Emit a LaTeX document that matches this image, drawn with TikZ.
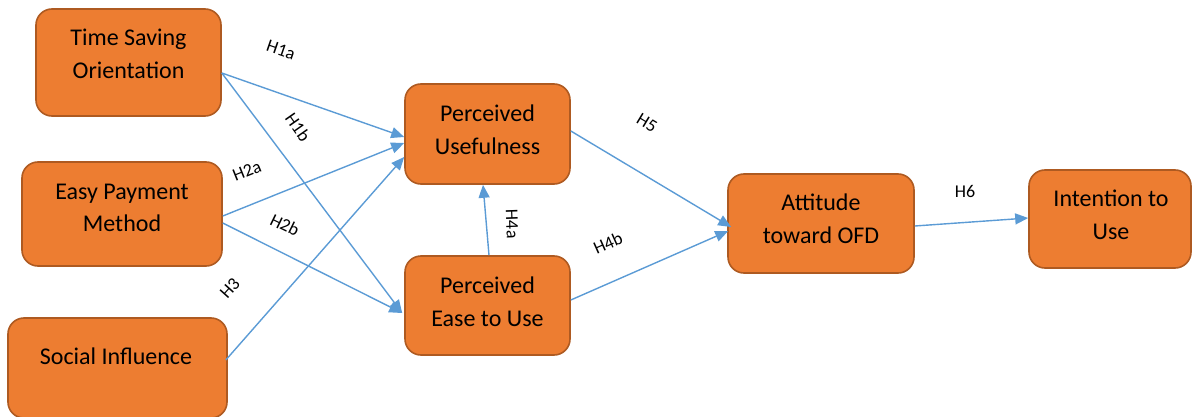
\documentclass[tikz,border=0pt]{standalone}
\usepackage{fontspec}
\setmainfont{Carlito}
\usetikzlibrary{arrows.meta,calc}
\definecolor{boxfill}{HTML}{ED7D31}
\definecolor{boxline}{HTML}{AE5A21}
\definecolor{arrowblue}{HTML}{5B9BD5}
\begin{document}
\begin{tikzpicture}[x=1pt,y=1pt,
 box/.style={draw=boxline, fill=boxfill, line width=1.6pt, rounded corners=16pt, inner sep=0pt},
 boxtext/.style={align=center, font=\fontsize{24}{32.5}\selectfont, inner sep=0pt},
 conn/.style={draw=arrowblue, line width=1.4pt, -{Triangle[length=13pt,width=11pt]}},
 hyp/.style={font=\fontsize{18}{20}\selectfont, inner sep=0pt}]
\useasboundingbox (0,0) rectangle (1192,416);
\clip (0,0) rectangle (1192,416);
% boxes
\node[box, minimum width=185pt, minimum height=107pt] (tso) at (128.5,353.5) {};
\node[box, minimum width=200pt, minimum height=104pt] (epm) at (122,202) {};
\node[box, minimum width=219pt, minimum height=100pt] (si) at (117.5,48) {};
\node[box, minimum width=165pt, minimum height=100pt] (pu) at (487.5,282) {};
\node[box, minimum width=165pt, minimum height=99pt] (peu) at (487.5,110.5) {};
\node[box, minimum width=186pt, minimum height=99pt] (att) at (821,192.5) {};
\node[box, minimum width=162pt, minimum height=98pt] (int) at (1110,197) {};
% box texts
\node[boxtext] (tsoT) at (128.5,362) {Time Saving\\Orientation};
\node[boxtext] (epmT) at (122,208) {Easy Payment\\Method};
\node[boxtext] (siT) at (116,60) {Social Influence};
\node[boxtext] (puT) at (487.5,286) {Perceived\\Usefulness};
\node[boxtext] (peuT) at (487.5,114) {Perceived\\Ease to Use};
\node[boxtext] (attT) at (821,197) {Attitude\\toward OFD};
\node[boxtext] (intT) at (1111,201) {Intention to\\Use};
% connectors
\draw[conn] ([yshift=-10.5pt]tso.east) -- ([yshift=-3pt]pu.west);
\draw[conn] ([yshift=-10.5pt]tso.east) -- ([xshift=-2pt,yshift=-7.5pt]peu.west);
\draw[conn] ([yshift=-2pt]epm.east) -- ([yshift=-9pt]pu.west);
\draw[conn] ([yshift=-9pt]epm.east) -- ([xshift=-2pt,yshift=-7.5pt]peu.west);
\draw[conn] ([xshift=-2pt,yshift=8pt]si.east) -- ([yshift=-23pt]pu.west);
\draw[conn] ([xshift=1.5pt]peu.north) -- ([xshift=-4.5pt]pu.south);
\draw[conn] ([yshift=3pt]pu.east) -- ([xshift=4pt,yshift=-3.5pt]att.west);
\draw[conn] ([yshift=5.5pt]peu.east) -- ([xshift=1pt,yshift=-7.5pt]att.west);
\draw[conn] ([yshift=-2.5pt]att.east) -- ([yshift=1pt]int.west);
% hypothesis labels
\node[hyp, rotate=-19] (h1a) at (281,366) {H1a};
\node[hyp, rotate=-55] (h1b) at (298,289) {H1b};
\node[hyp, rotate=22] (h2a) at (247,245) {H2a};
\node[hyp, rotate=-26] (h2b) at (285,191) {H2b};
\node[hyp, rotate=48] (h3) at (230,128) {H3};
\node[hyp, rotate=-88] (h4a) at (512,192) {H4a};
\node[hyp, rotate=24] (h4b) at (608,173) {H4b};
\node[hyp, rotate=-31] (h5) at (647,293) {H5};
\node[hyp] (h6) at (965,225) {H6};
\end{tikzpicture}
\end{document}
